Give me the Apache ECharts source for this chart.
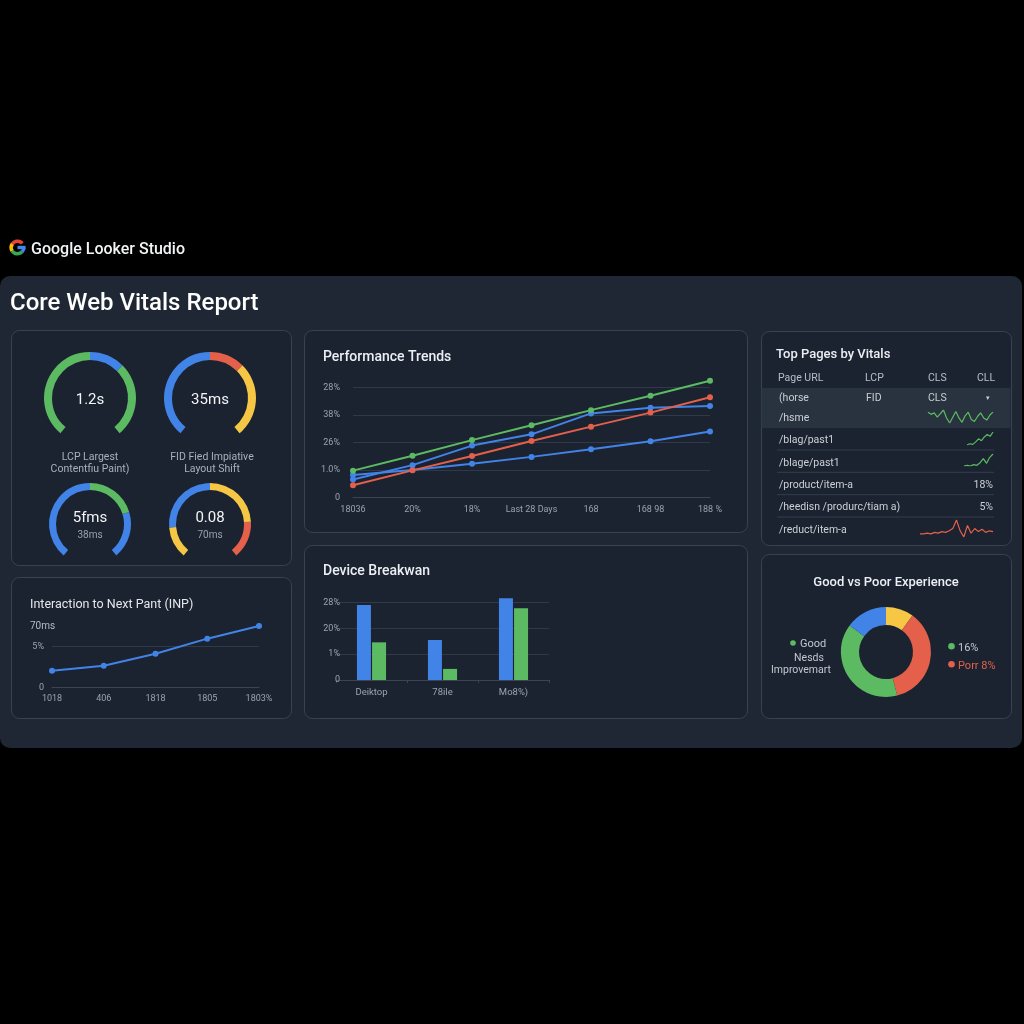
<!DOCTYPE html>
<html>
<head>
<meta charset="utf-8">
<script src="https://cdn.jsdelivr.net/npm/echarts@6/dist/echarts.min.js"></script>
<style>html,body{margin:0;padding:0;background:#000;}#c{width:1024px;height:1024px;}</style>
</head>
<body>
<div id="c"></div>
<script>
// ---------- data ----------
const gaugeMain = ['1.2s', '35ms', '5fms', '0.08'];
const gaugeSub = ['', '', '38ms', '70ms'];
const gaugeSegments = [
  [0.5, 0.66, 1],
  [0.5, 0.66, 1],
  [0.5, 0.76, 1],
  [0.16, 0.5, 0.81, 1]
];
const gaugeCaptions = ['LCP Largest\nContentfiu Paint)', 'FID Fied Impiative\nLayout Shift'];

const perfX = ['18036', '20%', '18%', 'Last 28 Days', '168', '168 98', '188 %'];
const perfYLabels = ['0', '1.0%', '26%', '38%', '28%'];
const perfGreen = [0.97, 1.51, 2.08, 2.62, 3.17, 3.69, 4.24];
const perfBlueA = [0.65, 1.17, 1.88, 2.29, 3.05, 3.26, 3.32];
const perfBlueB = [0.81, 0.99, 1.22, 1.47, 1.75, 2.04, 2.39];
const perfRed = [0.44, 0.98, 1.50, 2.05, 2.57, 3.08, 3.64];

const inpX = ['1018', '406', '1818', '1805', '1803%'];
const inpYLabels = ['0', '5%'];
const inpTopLabel = '70ms';
const inpValues = [2.04, 2.66, 4.14, 5.99, 7.55];

const devX = ['Deiktop', '78ile', 'Mo8%)'];
const devYLabels = ['0', '1%', '20%', '28%'];
const devBlue = [2.91, 1.55, 3.17];
const devGreen = [1.46, 0.43, 2.78];

const tableHeader = ['Page URL', 'LCP', 'CLS', 'CLL'];
const tableFirstRow = ['(horse', 'FID', 'CLS', '▾'];
const tablePages = ['/hsme', '/blag/past1', '/blage/past1', '/product/item-a', '/heedisn /produrc/tiam a)', '/reduct/item-a'];
const tableValues = ['', '', '', '18%', '5%', ''];
const spark1 = [2.0, 1.7, 1.9, 1.3, 1.8, 2.3, 1.2, 0.5, 1.3, 2.1, 1.2, 0.6, 1.5, 2.0, 1.0, 0.7, 1.4, 1.9, 1.2, 0.9, 1.6, 2.0];
const spark2 = [0.2, 0.4, 0.3, 0.7, 1.2, 0.9, 1.5, 1.9, 1.6, 2.3];
const spark3 = [0.5, 0.6, 0.5, 0.7, 0.6, 1.0, 1.6, 0.9, 1.8, 2.3];
const spark4 = [0.6, 0.6, 0.7, 0.6, 0.8, 0.7, 0.9, 0.8, 1.0, 1.3, 2.4, 1.0, 0.2, 1.7, 0.7, 1.3, 0.9, 1.2, 0.8, 1.0, 0.9];

const donutNames = ['Needs Improvement', 'Poor', 'Good', 'Other'];
const donutValues = [10, 36, 39, 15];
const donutLegendRight = ['16%', 'Porr 8%'];

// ---------- style ----------
const GREEN = '#5cbb62', BLUE = '#4283e8', RED = '#e5604a', YELLOW = '#f5c745';
const FONT = 'Roboto, "Open Sans", sans-serif';
const gaugeColors = [
  [GREEN, BLUE, GREEN],
  [BLUE, RED, YELLOW],
  [BLUE, GREEN, BLUE],
  [YELLOW, BLUE, YELLOW, RED]
];
const gaugeLayout = [
  {c: [90, 398], r: 46, w: 8, mainY: 2, subY: 0},
  {c: [210, 398], r: 46, w: 8, mainY: 2, subY: 0},
  {c: [90, 524], r: 41, w: 7, mainY: -6, subY: 11},
  {c: [210, 524], r: 41, w: 7, mainY: -6, subY: 11}
];
const CARD_FILL = '#1b2330', CARD_STROKE = '#384352', PANEL = '#1e2733';
const AXIS_LABEL = '#9ca3ad', SPLIT = '#2f3947';

function txt(text, x, y, size, color, opts) {
  opts = opts || {};
  return {
    type: 'text', z: 10,
    style: {
      text: text, x: x, y: y + 1.5, fill: color,
      font: (opts.weight || 'normal') + ' ' + size + 'px ' + FONT,
      align: opts.align || 'left', textAlign: opts.align || 'left',
      verticalAlign: 'middle', textVerticalAlign: 'middle',
      lineHeight: opts.lh || size * 1.15
    }
  };
}
function card(x, y, w, h) {
  return {type: 'rect', z: -5, shape: {x: x + 0.5, y: y + 0.5, width: w, height: h, r: 8},
    style: {fill: CARD_FILL, stroke: CARD_STROKE, lineWidth: 1}};
}

const graphic = [
  {type: 'rect', z: -10, shape: {x: 0, y: 276, width: 1022, height: 472, r: 10}, style: {fill: PANEL}},
  card(11, 330, 280, 235),
  card(11, 577, 280, 141),
  card(304, 330, 443, 202),
  card(304, 545, 443, 173),
  card(761, 331, 250, 214),
  card(761, 554, 250, 164),
  {type: 'rect', z: -4, shape: {x: 761.5, y: 388, width: 249, height: 40}, style: {fill: '#29323f'}},
  // Google logo
  {type: 'arc', z: 10, shape: {cx: 17.5, cy: 247.5, r: 6.3, startAngle: -2.55, endAngle: -0.7, clockwise: true}, style: {stroke: '#ea4335', lineWidth: 3.6, fill: null}},
  {type: 'arc', z: 10, shape: {cx: 17.5, cy: 247.5, r: 6.3, startAngle: 2.55, endAngle: 3.75, clockwise: true}, style: {stroke: '#fbbc05', lineWidth: 3.6, fill: null}},
  {type: 'arc', z: 10, shape: {cx: 17.5, cy: 247.5, r: 6.3, startAngle: 0.75, endAngle: 2.55, clockwise: true}, style: {stroke: '#34a853', lineWidth: 3.6, fill: null}},
  {type: 'arc', z: 10, shape: {cx: 17.5, cy: 247.5, r: 6.3, startAngle: 0, endAngle: 0.75, clockwise: true}, style: {stroke: '#4285f4', lineWidth: 3.6, fill: null}},
  {type: 'rect', z: 10, shape: {x: 17.5, y: 245.8, width: 8, height: 3.4}, style: {fill: '#4285f4'}},
  txt('Google Looker Studio', 31, 248, 16, '#f1f3f4', {weight: 500}),
  txt('Core Web Vitals Report', 10, 302, 24, '#ffffff', {weight: 500}),
  txt('Performance Trends', 323, 356, 14, '#eceff3', {weight: 500}),
  txt('Device Breakwan', 323, 570, 14, '#eceff3', {weight: 500}),
  txt('Top Pages by Vitals', 776, 353, 13, '#eceff3', {weight: 500}),
  txt('Good vs Poor Experience', 886, 581, 13, '#eceff3', {weight: 500, align: 'center'}),
  txt('Interaction to Next Pant (INP)', 30, 603, 12.5, '#e4e7eb'),
  txt(inpTopLabel, 30, 625, 10, '#b6bcc4'),
  txt(gaugeCaptions[0], 90, 461.5, 10.5, '#aab0b9', {align: 'center', lh: 12.2}),
  txt(gaugeCaptions[1], 212, 461.5, 10.5, '#aab0b9', {align: 'center', lh: 12.2}),
  // table
  txt(tableHeader[0], 778, 376.7, 10.5, '#b9bec6'),
  txt(tableHeader[1], 865, 376.7, 10.5, '#b9bec6'),
  txt(tableHeader[2], 928, 376.7, 10.5, '#b9bec6'),
  txt(tableHeader[3], 977, 376.7, 10.5, '#b9bec6'),
  txt(tableFirstRow[0], 779, 396.7, 10.5, '#c9cdd3'),
  txt(tableFirstRow[1], 866, 396.7, 10.5, '#c9cdd3'),
  txt(tableFirstRow[2], 928, 396.7, 10.5, '#c9cdd3'),
  txt(tableFirstRow[3], 988, 396.7, 7, '#c9cdd3', {align: 'center'}),
  // donut legend
  {type: 'circle', z: 10, shape: {cx: 793, cy: 643, r: 2.8}, style: {fill: GREEN}},
  txt('Good', 800, 643, 11, '#c3c8cf'),
  txt('Nesds', 809, 657, 10.5, '#c3c8cf', {align: 'center'}),
  txt('Improvemart', 801, 668.5, 10.5, '#c3c8cf', {align: 'center'}),
  {type: 'circle', z: 10, shape: {cx: 951.5, cy: 646.3, r: 3.3}, style: {fill: GREEN}},
  txt(donutLegendRight[0], 958, 646.3, 11, '#c3c8cf'),
  {type: 'circle', z: 10, shape: {cx: 951.5, cy: 664.3, r: 3.3}, style: {fill: RED}},
  txt(donutLegendRight[1], 958, 664.3, 11, RED)
];
const rowY = [417.3, 439, 461.7, 484.3, 506.3, 529];
const sepY = [450, 472.3, 494.7, 517];
sepY.forEach(y => graphic.push({type: 'line', z: -3, shape: {x1: 777, y1: y, x2: 994, y2: y}, style: {stroke: '#333d4b', lineWidth: 1}}));
tablePages.forEach((p, i) => {
  graphic.push(txt(p, 779, rowY[i], 10.5, '#cdd1d7'));
  if (tableValues[i]) graphic.push(txt(tableValues[i], 993, rowY[i], 10.5, '#cdd1d7', {align: 'right'}));
});

// ---------- gauges ----------
const series = [];
gaugeMain.forEach((m, i) => {
  const L = gaugeLayout[i];
  const segs = gaugeSegments[i].map((s, k) => [s, gaugeColors[i][k]]);
  series.push({
    type: 'gauge', center: L.c, radius: L.r, startAngle: 230, endAngle: -50,
    min: 0, max: 1,
    axisLine: {lineStyle: {width: L.w, color: segs}},
    pointer: {show: false}, progress: {show: false}, anchor: {show: false},
    axisTick: {show: false}, splitLine: {show: false}, axisLabel: {show: false},
    title: {show: !!gaugeSub[i], offsetCenter: [0, L.subY], color: '#9aa1ab', fontSize: 10, fontFamily: FONT},
    detail: {offsetCenter: [0, L.mainY], formatter: () => m, color: '#f3f5f7', fontSize: 15, fontFamily: FONT, fontWeight: 'normal'},
    data: [{value: 0, name: gaugeSub[i]}]
  });
});

// ---------- grids ----------
const grid = [
  {left: 353, top: 387.3, width: 357, height: 110},          // perf
  {left: 52, top: 646.7, width: 207, height: 40.6},          // inp
  {left: 336, top: 602.6, width: 213, height: 77.4},         // device
  {left: 928, top: 410, width: 65, height: 13},              // spark1
  {left: 967, top: 432, width: 26, height: 13},              // spark2
  {left: 964, top: 454, width: 29, height: 12},              // spark3
  {left: 920, top: 520, width: 73, height: 17}               // spark4
];
const lab = {color: AXIS_LABEL, fontSize: 9, fontFamily: FONT};
const xAxis = [
  {gridIndex: 0, type: 'category', boundaryGap: false, data: perfX,
    axisLine: {lineStyle: {color: '#3a4453'}}, axisTick: {show: false},
    axisLabel: Object.assign({margin: 8, interval: 0, hideOverlap: false}, lab)},
  {gridIndex: 1, type: 'category', boundaryGap: false, data: inpX,
    axisLine: {lineStyle: {color: '#3a4453'}}, axisTick: {show: false},
    axisLabel: Object.assign({margin: 7, interval: 0}, lab)},
  {gridIndex: 2, type: 'category', data: devX,
    axisLine: {lineStyle: {color: '#3a4453'}}, axisTick: {show: true, lineStyle: {color: '#3a4453'}, length: 3},
    axisLabel: Object.assign({margin: 8, interval: 0}, lab, {fontSize: 9.5})}
];
const yAxis = [
  {gridIndex: 0, type: 'value', min: 0, max: 4, interval: 1,
    axisLabel: Object.assign({margin: 13, formatter: v => perfYLabels[v]}, lab),
    splitLine: {lineStyle: {color: SPLIT}}, axisLine: {show: false}},
  {gridIndex: 1, type: 'value', min: 0, max: 5, interval: 5,
    axisLabel: Object.assign({margin: 8, formatter: v => inpYLabels[v / 5]}, lab),
    splitLine: {lineStyle: {color: SPLIT}}, axisLine: {show: false}},
  {gridIndex: 2, type: 'value', min: 0, max: 3, interval: 1,
    axisLabel: Object.assign({margin: -4, formatter: v => devYLabels[v]}, lab),
    splitLine: {lineStyle: {color: SPLIT}}, axisLine: {show: false}}
];
[spark1, spark2, spark3, spark4].forEach((d, k) => {
  xAxis.push({gridIndex: 3 + k, type: 'category', show: false, boundaryGap: false, data: d.map((_, i) => i)});
  yAxis.push({gridIndex: 3 + k, type: 'value', show: false, min: 'dataMin', max: 'dataMax'});
});

function perfLine(data, color) {
  return {type: 'line', xAxisIndex: 0, yAxisIndex: 0, data: data, clip: false,
    symbol: 'circle', symbolSize: 6, lineStyle: {width: 2, color: color}, itemStyle: {color: color}, z: 5};
}
series.push(perfLine(perfBlueB, BLUE));
series.push(perfLine(perfBlueA, BLUE));
series.push(perfLine(perfRed, RED));
series.push(perfLine(perfGreen, GREEN));

series.push({type: 'line', xAxisIndex: 1, yAxisIndex: 1, data: inpValues, clip: false,
  symbol: 'circle', symbolSize: 6, lineStyle: {width: 2, color: BLUE}, itemStyle: {color: BLUE}});

series.push({type: 'bar', xAxisIndex: 2, yAxisIndex: 2, data: devBlue, barWidth: 14, barGap: '8%', clip: false,
  itemStyle: {color: BLUE}});
series.push({type: 'bar', xAxisIndex: 2, yAxisIndex: 2, data: devGreen, barWidth: 14, barGap: '8%', clip: false,
  itemStyle: {color: GREEN}});

[spark1, spark2, spark3, spark4].forEach((d, k) => {
  const c = k === 3 ? RED : GREEN;
  series.push({type: 'line', xAxisIndex: 3 + k, yAxisIndex: 3 + k, data: d, symbol: 'none',
    lineStyle: {width: 1.2, color: c}});
});

series.push({type: 'pie', center: [886, 652], radius: [27, 45], startAngle: 90, clockwise: true,
  label: {show: false}, labelLine: {show: false},
  data: donutNames.map((n, i) => ({name: n, value: donutValues[i], itemStyle: {color: [YELLOW, RED, GREEN, BLUE][i]}}))});

const chart = echarts.init(document.getElementById('c'), null, {renderer: 'canvas'});
chart.setOption({
  backgroundColor: '#000000',
  animation: false,
  graphic: graphic,
  grid: grid,
  xAxis: xAxis,
  yAxis: yAxis,
  series: series
});
</script>
</body>
</html>
